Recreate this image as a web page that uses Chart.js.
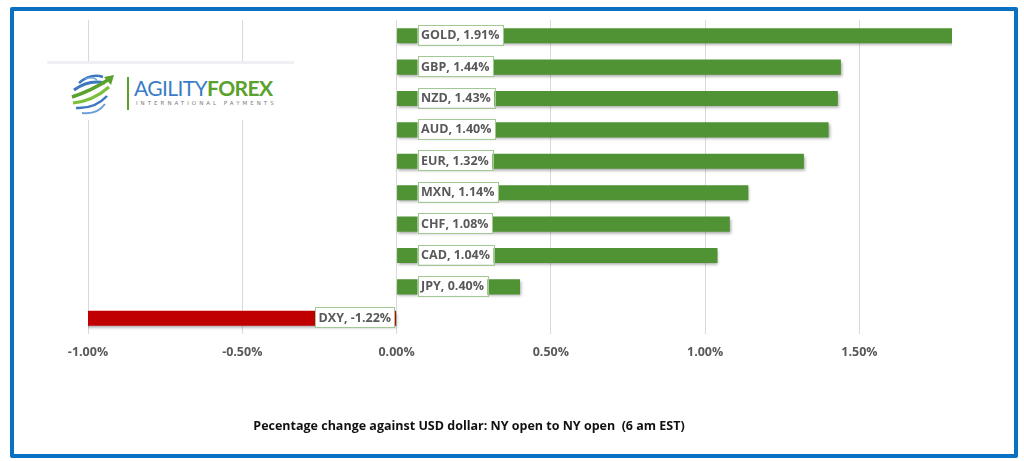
<!DOCTYPE html>
<html>
<head>
<meta charset="utf-8">
<script src="https://cdn.jsdelivr.net/npm/chart.js@4.4.1/dist/chart.umd.min.js"></script>
<style>
    html, body { margin: 0; padding: 0; background: #ffffff; }
    #wrap { position: relative; width: 1024px; height: 461px; overflow: hidden; }
    #chartBox { position: absolute; left: 0; top: 0; width: 1024px; height: 461px; }
    #frame {
        position: absolute; left: 10px; top: 7px; width: 1000px; height: 443px;
        border: 4px solid #0a70c2; border-radius: 2px; pointer-events: none;
    }
    #logo {
        position: absolute; left: 47px; top: 61px; width: 247px; height: 56px;
        background: #ffffff; border-top: 3px solid #eef0f3;
    }
    #logo svg { position: absolute; left: 22px; top: 6px; }
    #logo .bar { position: absolute; left: 80px; top: 13px; width: 2px; height: 33px; background: #5aa02c; }
    #logo .name {
        position: absolute; left: 87px; top: 13px; font-family: Lato, sans-serif;
        font-size: 21px; letter-spacing: -0.6px; line-height: 22px; white-space: nowrap;
    }
    #logo .name .a { color: #3b7cc6; font-weight: 400; }
    #logo .name .f { color: #5ba12e; font-weight: 700; }
    #logo .sub {
        position: absolute; left: 89px; top: 36px; font-family: "DejaVu Sans", sans-serif;
        font-size: 5.5px; letter-spacing: 3px; color: #7a7a7a; white-space: nowrap;
    }
    #axisTitle {
        position: absolute; left: 169px; width: 600px; top: 417px; text-align: center;
        font-family: "Open Sans", sans-serif; font-weight: 700; font-size: 12.5px; color: #111111;
        white-space: pre;
    }
</style>
</head>
<body>
<div id="wrap">
    <div id="chartBox"><canvas id="fxChart"></canvas></div>
    <div id="logo">
        <svg width="50" height="48" viewBox="0 0 50 48">
            <path d="M10 13 Q22 3 34 7" stroke="#3b78bf" stroke-width="2.5" fill="none"/>
            <path d="M16 9 Q24 6 28 10" stroke="#6aa0d8" stroke-width="1.5" fill="none"/>
            <path d="M5 20 Q20 9 36 13" stroke="#3b78bf" stroke-width="3" fill="none"/>
            <path d="M3 27 Q22 21 42 8" stroke="#5ba12e" stroke-width="3.5" fill="none"/>
            <polygon points="45,5 35,7 42,15" fill="#5ba12e"/>
            <path d="M4 33 Q24 31 40 17" stroke="#7cbf3a" stroke-width="3" fill="none"/>
            <path d="M7 38 Q26 39 38 26" stroke="#3b78bf" stroke-width="2.5" fill="none"/>
            <path d="M13 43 Q28 45 36 34" stroke="#6aa0d8" stroke-width="2" fill="none"/>
        </svg>
        <div class="bar"></div>
        <div class="name"><span class="a">AGILITY</span><span class="f">FOREX</span></div>
        <div class="sub">INTERNATIONAL PAYMENTS</div>
    </div>
    <div id="axisTitle">Pecentage change against USD dollar: NY open to NY open  (6 am EST)</div>
    <div id="frame"></div>
</div>
<script>
document.addEventListener("DOMContentLoaded", function () {
    // datos (porcentaje)
    const monedas = ['GOLD', 'GBP', 'NZD', 'AUD', 'EUR', 'MXN', 'CHF', 'CAD', 'JPY', 'DXY'];
    const cambios = [1.91, 1.44, 1.43, 1.40, 1.32, 1.14, 1.08, 1.04, 0.40, -1.22];
    const ejeMin = -1.0;
    const ejeMax = 1.8;
    const ejePaso = 0.5;

    const verde = '#4f9334';
    const rojo = '#c00000';
    const fuente = '"Open Sans", sans-serif';

    // sombra suave de las barras, como en el original
    const sombraBarras = {
        id: 'sombraBarras',
        beforeDatasetsDraw(chart) {
            const ctx = chart.ctx;
            ctx.save();
            ctx.shadowColor = 'rgba(0,0,0,0.35)';
            ctx.shadowBlur = 3;
            ctx.shadowOffsetX = 1;
            ctx.shadowOffsetY = 2;
        },
        afterDatasetsDraw(chart) {
            chart.ctx.restore();
        }
    };

    // etiquetas con recuadro blanco junto al eje cero
    const etiquetas = {
        id: 'etiquetas',
        afterDraw(chart) {
            const ctx = chart.ctx;
            const xScale = chart.scales.x;
            const base = xScale.getPixelForValue(0);
            const meta = chart.getDatasetMeta(0);
            ctx.save();
            ctx.font = 'bold 12.5px ' + fuente;
            ctx.textBaseline = 'middle';
            meta.data.forEach((bar, i) => {
                const valor = cambios[i];
                const texto = monedas[i] + ', ' + valor.toFixed(2) + '%';
                const w = ctx.measureText(texto).width + 7;
                const h = 20;
                const x = valor >= 0 ? base + 21 : base - 2 - w;
                const y = bar.y - h / 2 - 1;
                ctx.fillStyle = '#ffffff';
                ctx.fillRect(x, y, w, h);
                ctx.strokeStyle = '#a3c993';
                ctx.lineWidth = 1;
                ctx.strokeRect(Math.round(x) + 0.5, Math.round(y) + 0.5, Math.round(w), h);
                ctx.fillStyle = '#595959';
                ctx.textAlign = 'left';
                ctx.fillText(texto, x + 3.5, bar.y);
            });
            ctx.restore();
        }
    };

    const ctx = document.getElementById('fxChart').getContext('2d');
    new Chart(ctx, {
        type: 'bar',
        data: {
            labels: monedas,
            datasets: [{
                data: cambios,
                backgroundColor: cambios.map(v => v >= 0 ? verde : rojo),
                borderWidth: 0,
                barPercentage: 0.48,
                categoryPercentage: 1.0,
                clip: 0
            }]
        },
        options: {
            indexAxis: 'y',
            responsive: true,
            maintainAspectRatio: false,
            animation: false,
            layout: {
                padding: { left: 88, right: 72, top: 20, bottom: 90 }
            },
            scales: {
                x: {
                    min: ejeMin,
                    max: ejeMax,
                    afterBuildTicks(scale) {
                        scale.ticks = scale.ticks.filter(t => t.value <= 1.5 + 1e-9);
                    },
                    ticks: {
                        stepSize: ejePaso,
                        padding: 11,
                        color: '#595959',
                        font: { family: fuente, size: 12.5, weight: 'bold' },
                        callback: v => Number(v).toFixed(2) + '%'
                    },
                    grid: { color: '#d9d9d9', drawTicks: false },
                    border: { display: false }
                },
                y: {
                    display: false
                }
            },
            plugins: {
                legend: { display: false },
                tooltip: { enabled: false }
            }
        },
        plugins: [sombraBarras, etiquetas]
    });
});
</script>
</body>
</html>
